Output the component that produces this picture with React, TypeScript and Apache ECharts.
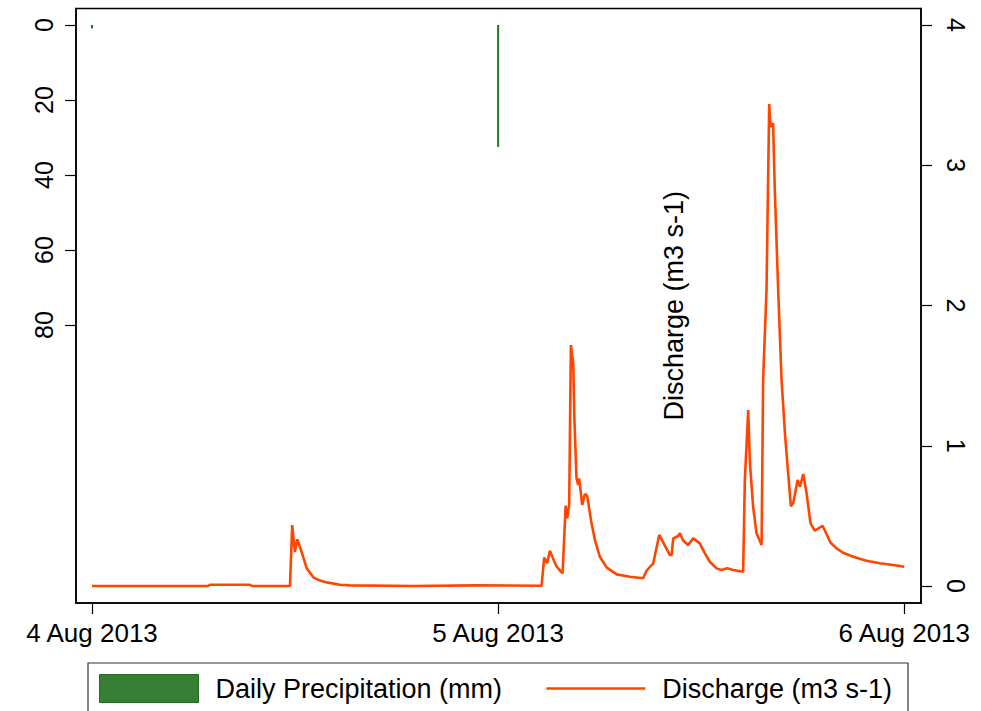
import React, { useEffect, useRef } from "react";
import * as echarts from "echarts";

// Hours since 4 Aug 2013 00:00
const dischargeHours = [
  0, 6.85, 6.97, 9.34, 9.45, 11.7, 11.83, 11.99, 12.13, 12.35, 12.69, 13.08, 13.47, 13.87, 14.65, 15.24,
  18.97, 22.73, 26.57, 26.72, 26.9, 27.06, 27.2, 27.46, 27.81, 27.99, 28.08, 28.2, 28.3, 28.44, 28.51,
  28.63, 28.73, 28.79, 28.97, 29.13, 29.26, 29.52, 29.72, 30.01, 30.41, 31.0, 31.79, 32.57, 32.77, 33.07,
  33.16, 33.52, 34.15, 34.25, 34.35, 34.64, 34.74, 34.94, 35.23, 35.53, 35.92, 36.22, 36.51, 36.91, 37.21,
  37.54, 37.89, 38.48, 38.58, 38.78, 38.88, 39.07, 39.27, 39.57, 39.66, 39.76, 39.86, 40.02, 40.1, 40.25,
  40.35, 40.55, 40.75, 40.95, 41.14, 41.3, 41.44, 41.7, 41.84, 42.03, 42.23, 42.46, 42.72, 43.17, 43.37,
  43.65, 44.0, 44.39, 44.98, 45.77, 46.56, 47.34, 48,
];
const dischargeValues = [
  0, 0, 0.009, 0.009, 0, 0, 0.435, 0.242, 0.333, 0.257, 0.126, 0.062, 0.039, 0.026, 0.009, 0.005,
  0, 0.005, 0.002, 0.202, 0.162, 0.252, 0.209, 0.138, 0.091, 0.573, 0.483, 0.578, 1.718, 1.588, 1.18,
  0.772, 0.72, 0.768, 0.578, 0.656, 0.644, 0.447, 0.328, 0.209, 0.133, 0.083, 0.066, 0.055, 0.109, 0.15,
  0.157, 0.364, 0.221, 0.221, 0.34, 0.357, 0.376, 0.323, 0.292, 0.34, 0.304, 0.233, 0.173, 0.126, 0.114,
  0.126, 0.114, 0.102, 0.756, 1.255, 0.875, 0.565, 0.376, 0.292, 1.469, 1.79, 2.11, 3.437, 3.275, 3.299,
  2.824, 2.111, 1.469, 1.089, 0.804, 0.57, 0.59, 0.756, 0.708, 0.799, 0.661, 0.447, 0.394, 0.43, 0.38,
  0.309, 0.269, 0.237, 0.209, 0.18, 0.162, 0.15, 0.138,
];
const precipHours = [0, 24];
const precipValues = [0.9, 32.5];

const xTickValues = [0, 24, 48];
const xTickLabels = ["4 Aug 2013", "5 Aug 2013", "6 Aug 2013"];
const leftTicks = [0, 20, 40, 60, 80];
const rightTicks = [0, 1, 2, 3, 4];

const FONT = "'Liberation Sans', Arial, Helvetica, sans-serif";

export default function App() {
  const ref = useRef<HTMLDivElement>(null);
  useEffect(() => {
    if (!ref.current) return;
    const chart = echarts.init(ref.current, null, { renderer: "svg" });
    const axisLine = { show: true, onZero: false, lineStyle: { color: "#000", width: 1.5 } };
    chart.setOption({
      animation: false,
      backgroundColor: "#fff",
      textStyle: { fontFamily: FONT },
      grid: {
        left: 76,
        right: 60,
        top: 8.5,
        bottom: 108,
        show: true,
        borderColor: "#000",
        borderWidth: 1.5,
        backgroundColor: "transparent",
      },
      legend: {
        left: 99,
        top: 674,
        itemWidth: 99,
        itemHeight: 28,
        itemGap: 43,
        padding: 0,
        textStyle: { fontSize: 27, color: "#000", fontFamily: FONT, padding: [0, 0, 0, 12] },
        data: [
          {
            name: "Daily Precipitation (mm)",
            icon: "rect",
            itemStyle: { color: "#357e33", borderColor: "#286b26", borderWidth: 1 },
          },
          {
            name: "Discharge (m3 s-1)",
            itemStyle: { opacity: 0 },
            lineStyle: { color: "#ff4500", width: 2.6 },
          },
        ],
      },
      xAxis: {
        type: "value",
        min: -0.946,
        max: 48.99,
        axisLine,
        splitLine: { show: false },
        axisTick: { show: true, customValues: xTickValues, length: 11, lineStyle: { color: "#000", width: 1.2 } },
        axisLabel: {
          customValues: xTickValues,
          formatter: (v: number) => xTickLabels[xTickValues.indexOf(v)] ?? "",
          fontSize: 26,
          color: "#000",
          margin: 17,
          fontFamily: FONT,
        },
      },
      yAxis: [
        {
          type: "value",
          position: "left",
          inverse: true,
          min: -4.4,
          max: 154.1,
          axisLine,
          splitLine: { show: false },
          axisTick: { show: true, customValues: leftTicks, length: 11, lineStyle: { color: "#000", width: 1.2 } },
          axisLabel: {
            customValues: leftTicks,
            rotate: 90,
            fontSize: 25,
            color: "#000",
            margin: 20,
            fontFamily: FONT,
          },
        },
        {
          type: "value",
          position: "right",
          min: -0.121,
          max: 4.118,
          name: "Discharge (m3 s-1)",
          nameLocation: "middle",
          nameGap: -261,
          nameRotate: 90,
          nameTextStyle: { fontSize: 27, color: "#000", fontFamily: FONT },
          axisLine,
          splitLine: { show: false },
          axisTick: { show: true, customValues: rightTicks, length: 11, lineStyle: { color: "#000", width: 1.2 } },
          axisLabel: {
            customValues: rightTicks,
            rotate: -90,
            fontSize: 25,
            color: "#000",
            margin: 22,
            fontFamily: FONT,
          },
        },
      ],
      series: [
        {
          name: "Daily Precipitation (mm)",
          type: "bar",
          yAxisIndex: 0,
          barWidth: 2,
          itemStyle: { color: "#1b7a1b" },
          data: precipHours.map((h, i) => [h, precipValues[i]]),
        },
        {
          name: "Discharge (m3 s-1)",
          type: "line",
          yAxisIndex: 1,
          symbol: "none",
          lineStyle: { color: "#ff4500", width: 2.6 },
          itemStyle: { color: "#ff4500" },
          data: dischargeHours.map((h, i) => [h, dischargeValues[i]]),
        },
      ],
      graphic: [
        {
          type: "rect",
          shape: { x: 88, y: 663, width: 820, height: 70 },
          style: { fill: "none", stroke: "#333", lineWidth: 1.2 },
          z: 0,
        },
      ],
    });
    return () => chart.dispose();
  }, []);
  return (
    <div
      ref={ref}
      style={{ position: "fixed", left: 0, top: 0, width: 981, height: 711, background: "#fff" }}
    />
  );
}
